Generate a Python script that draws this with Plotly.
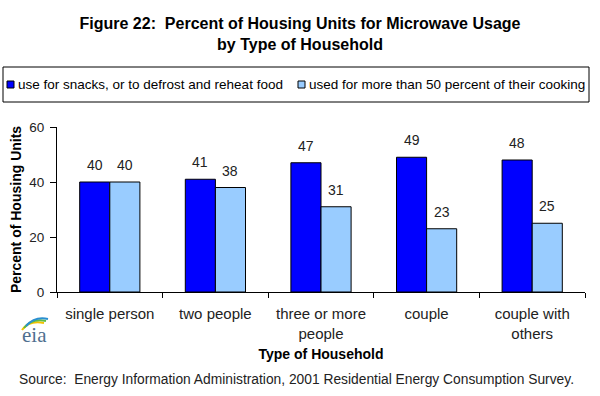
import plotly.graph_objects as go

categories = ["single person", "two people", "three or more<br>people", "couple", "couple with<br>others"]
snacks = [40, 41, 47, 49, 48]
cooking = [40, 38, 31, 23, 25]
series_names = ["use for snacks, or to defrost and reheat food",
                "used for more than 50 percent of their cooking"]
series_colors = ["#0000FF", "#99CCFF"]
y_ticks = [0, 20, 40, 60]

W, H = 600, 396
L, R, T, B = 57, 15, 127, 104
PW, PH = W - L - R, H - T - B
FONT = "Liberation Sans, Arial, sans-serif"


def px(x):
    return (x - L) / PW


def py(y):
    return (H - B - y) / PH


fig = go.Figure()
for name, vals, col in zip(series_names, (snacks, cooking), series_colors):
    fig.add_trace(go.Bar(x=categories, y=vals, name=name, showlegend=False,
                         marker=dict(color=col, line=dict(color="black", width=1))))

annotations = []
for i, c in enumerate(categories):
    for vals, shift in ((snacks, -15), (cooking, 15)):
        annotations.append(dict(x=c, y=vals[i], xref="x", yref="y", text=str(vals[i]),
                                showarrow=False, yanchor="bottom", xshift=shift, yshift=7,
                                font=dict(family=FONT, size=14, color="#222")))

# Legend (drawn manually to match the tight boxed legend)
shapes = [dict(type="rect", xref="paper", yref="paper", x0=px(3), x1=px(589), y0=py(67), y1=py(102),
               line=dict(color="black", width=1), fillcolor="white")]
legend_x = [(7, 16), (298, 307)]
for (sx, tx), name, col in zip(legend_x, series_names, series_colors):
    shapes.append(dict(type="rect", xref="paper", yref="paper", x0=px(sx), x1=px(sx + 7),
                       y0=py(81), y1=py(88), line=dict(color="black", width=1), fillcolor=col))
    annotations.append(dict(xref="paper", yref="paper", x=px(tx), y=py(84.5), xanchor="left",
                            yanchor="middle", text=name, showarrow=False,
                            font=dict(family=FONT, size=13.5, color="black")))

annotations.append(dict(xref="paper", yref="paper", x=px(17), y=py(379), xanchor="left", yanchor="middle",
                        text="Source:  Energy Information Administration, 2001 Residential Energy Consumption Survey.",
                        showarrow=False, font=dict(family=FONT, size=13.8, color="#222")))
annotations.append(dict(xref="paper", yref="paper", x=px(34), y=py(335), xanchor="center", yanchor="middle",
                        text="eia", showarrow=False,
                        font=dict(family="Liberation Serif, DejaVu Serif, serif", size=21, color="#4F6F8F")))

arcs = [("#F2C200", (22, 330), (29, 320), (44, 323)),
        ("#5DBB46", (24, 328), (32, 318), (46, 321)),
        ("#2A8FD0", (26, 326), (35, 316), (48, 319))]
for col, p0, c, p1 in arcs:
    shapes.append(dict(type="path", xref="paper", yref="paper",
                       path=f"M {px(p0[0])} {py(p0[1])} Q {px(c[0])} {py(c[1])} {px(p1[0])} {py(p1[1])}",
                       line=dict(color=col, width=2)))

fig.update_layout(
    width=W, height=H,
    margin=dict(l=L, r=R, t=T, b=B, autoexpand=False),
    paper_bgcolor="white", plot_bgcolor="white",
    barmode="group", bargap=0.43, bargroupgap=0,
    font=dict(family=FONT, size=13, color="#222"),
    title=dict(text="<b>Figure 22:  Percent of Housing Units for Microwave Usage<br>by Type of Household</b>",
               x=0.5, xref="container", yref="container", xanchor="center", y=1 - 29 / H, yanchor="middle",
               font=dict(family=FONT, size=16, color="black")),
    showlegend=False,
    xaxis=dict(showline=True, linecolor="black", linewidth=1, ticks="outside", tickson="boundaries",
               ticklen=5, tickcolor="black", showgrid=False, ticklabelstandoff=8,
               title=dict(text="<b>Type of Household</b>", standoff=8,
                          font=dict(family=FONT, size=14, color="black")),
               tickfont=dict(family=FONT, size=15, color="#222")),
    yaxis=dict(range=[0, 60], tickvals=y_ticks, showline=True, linecolor="black", linewidth=1,
               ticks="outside", ticklen=6, tickcolor="black", showgrid=False, zeroline=False,
               ticklabelstandoff=3,
               title=dict(text="<b>Percent of Housing Units</b>", standoff=4,
                          font=dict(family=FONT, size=14, color="black")),
               tickfont=dict(family=FONT, size=13.5, color="#222")),
    annotations=annotations, shapes=shapes,
)

fig.write_html("out.html", config={"displayModeBar": False},
               post_script="document.body.style.margin='0';document.body.style.overflow='hidden';")
